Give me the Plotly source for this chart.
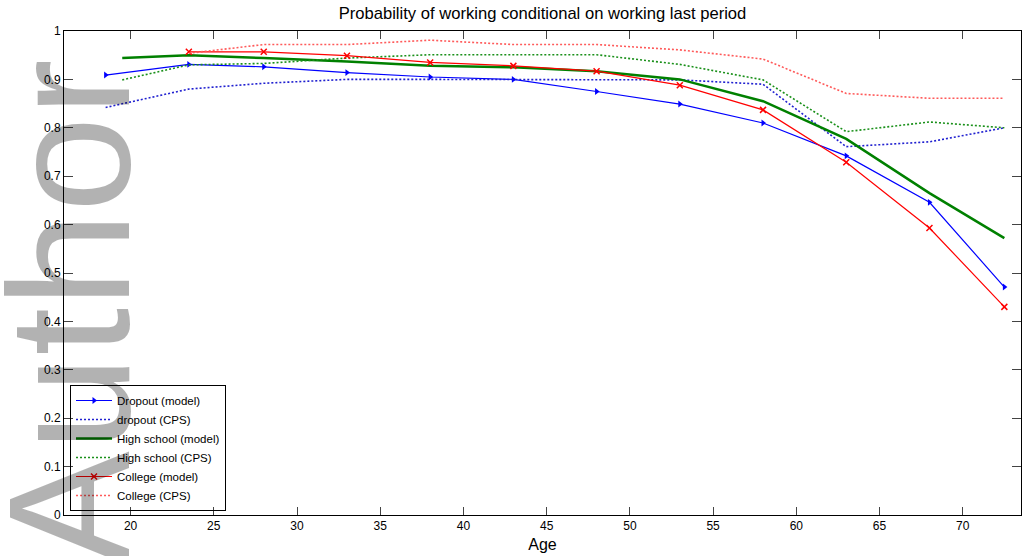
import plotly.graph_objects as go

ages_dropout = [18.5, 23.5, 28, 33, 38, 43, 48, 53, 58, 63, 68, 72.5]
ages_hs = [19.5, 23.5, 28, 33, 38, 43, 48, 53, 58, 63, 68, 72.5]
ages_college = [23.5, 28, 33, 38, 43, 48, 53, 58, 63, 68, 72.5]

dropout_model = [0.909, 0.931, 0.926, 0.914, 0.905, 0.900, 0.875, 0.849, 0.810, 0.742, 0.646, 0.471]
dropout_cps = [0.842, 0.880, 0.892, 0.900, 0.900, 0.900, 0.900, 0.899, 0.890, 0.761, 0.771, 0.800]
hs_model = [0.944, 0.950, 0.944, 0.937, 0.928, 0.925, 0.917, 0.900, 0.855, 0.777, 0.665, 0.572]
hs_cps = [0.899, 0.930, 0.933, 0.944, 0.951, 0.951, 0.951, 0.931, 0.899, 0.792, 0.812, 0.800]
college_model = [0.957, 0.957, 0.949, 0.935, 0.928, 0.917, 0.888, 0.837, 0.729, 0.593, 0.430]
college_cps = [0.954, 0.972, 0.972, 0.981, 0.972, 0.972, 0.961, 0.942, 0.871, 0.861, 0.861]

x_ticks = [20, 25, 30, 35, 40, 45, 50, 55, 60, 65, 70]
y_ticks = [0, 0.1, 0.2, 0.3, 0.4, 0.5, 0.6, 0.7, 0.8, 0.9, 1]
y_tick_labels = ["0", "0.1", "0.2", "0.3", "0.4", "0.5", "0.6", "0.7", "0.8", "0.9", "1"]

FONT = "Liberation Sans, Arial, Helvetica, sans-serif"
BLUE = "#0000ff"
GREEN = "#008000"
RED = "#ff0000"
DOT = "2px,2px"

fig = go.Figure()
fig.add_trace(go.Scatter(x=ages_dropout, y=dropout_model, name="Dropout (model)",
                         mode="lines+markers", line=dict(color=BLUE, width=1.2),
                         marker=dict(symbol="triangle-right", size=6, color=BLUE)))
fig.add_trace(go.Scatter(x=ages_dropout, y=dropout_cps, name="dropout (CPS)",
                         mode="lines", line=dict(color="#2020d0", width=1.6, dash=DOT)))
fig.add_trace(go.Scatter(x=ages_hs, y=hs_model, name="High school (model)",
                         mode="lines", line=dict(color=GREEN, width=2.5)))
fig.add_trace(go.Scatter(x=ages_hs, y=hs_cps, name="High school (CPS)",
                         mode="lines", line=dict(color="#1a901a", width=1.6, dash=DOT)))
fig.add_trace(go.Scatter(x=ages_college, y=college_model, name="College (model)",
                         mode="lines+markers", line=dict(color=RED, width=1.2),
                         marker=dict(symbol="x-thin", size=6, color=RED,
                                     line=dict(color=RED, width=1.5))))
fig.add_trace(go.Scatter(x=ages_college, y=college_cps, name="College (CPS)",
                         mode="lines", line=dict(color="#ff5a5a", width=1.6, dash=DOT)))

fig.update_layout(
    width=1024, height=556,
    margin=dict(l=64, r=3, t=31, b=41),
    paper_bgcolor="white", plot_bgcolor="white",
    font=dict(family=FONT, size=12, color="black"),
    title=dict(text="Probability of working conditional on working last period",
               x=0.5, xref="paper", xanchor="center", y=1 - 13 / 556, yanchor="middle",
               font=dict(size=16.6, family=FONT, color="black")),
    showlegend=True,
    legend=dict(x=6 / 957, y=(515 - 511) / 484, xanchor="left", yanchor="bottom",
                bgcolor="rgba(255,255,255,0)", bordercolor="black", borderwidth=1,
                font=dict(size=11.5, family=FONT, color="black"),
                itemwidth=36, tracegroupgap=0),
    annotations=[dict(text="Author Manuscript", textangle=-90, showarrow=False,
                      xref="paper", yref="paper", x=(69 - 64) / 957, y=(515 - 568) / 484,
                      xanchor="center", yanchor="bottom",
                      font=dict(size=172, family=FONT, color="rgba(0,0,0,0.3)"))],
)

fig.update_xaxes(range=[16, 73.5], tickvals=x_ticks, ticks="inside", ticklen=8,
                 showline=True, linecolor="black", linewidth=1, mirror="ticks",
                 showgrid=False, zeroline=False, tickfont=dict(size=12, family=FONT),
                 title=dict(text="Age", font=dict(size=16, family=FONT), standoff=6))
fig.update_yaxes(range=[0, 1], tickvals=y_ticks, ticktext=y_tick_labels, ticks="inside",
                 ticklen=9, showline=True, linecolor="black", linewidth=1, mirror="ticks",
                 showgrid=False, zeroline=False, tickfont=dict(size=12, family=FONT))

fig.write_html("out.html")
